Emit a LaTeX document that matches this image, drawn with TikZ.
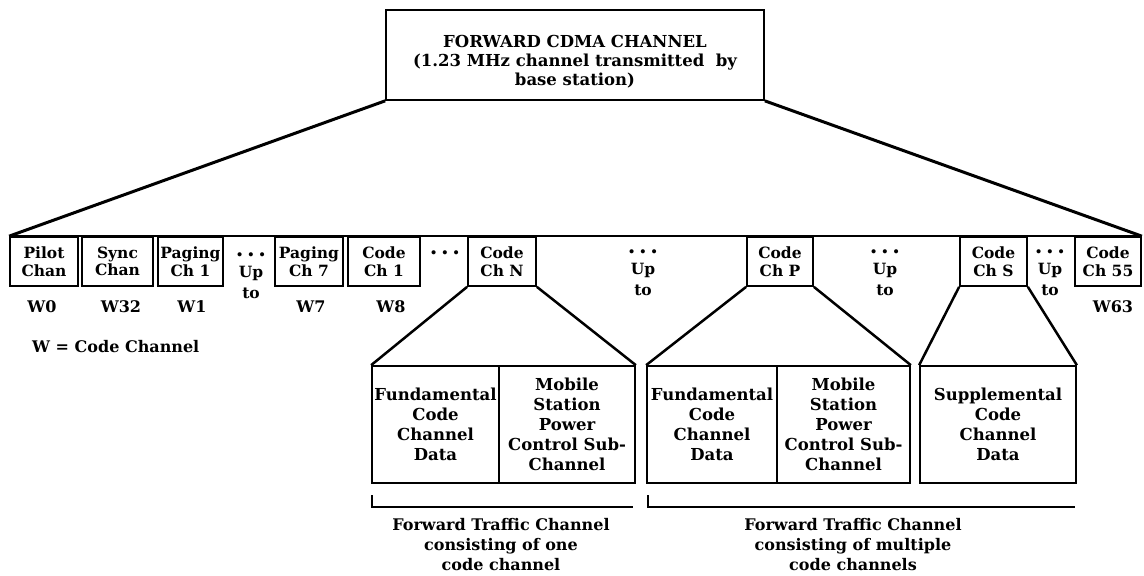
\documentclass[tikz,border=0pt]{standalone}
\usepackage{fontspec}
\setmainfont{DejaVu Serif}
\newcommand{\gapdots}{{\fontsize{22}{21}\selectfont .\,.\,.}}
\begin{document}
\begin{tikzpicture}[x=1pt,y=-1pt,
  every node/.style={font=\bfseries\fontsize{16.5}{19}\selectfont, align=center, inner sep=0pt},
  chbox/.style={draw, line width=1.7pt, minimum height=49pt, font=\bfseries\fontsize{15.5}{17.5}\selectfont},
  subbox/.style={draw, line width=1.7pt, minimum height=117pt, font=\bfseries\fontsize{16.5}{20}\selectfont},
  gap/.style={font=\bfseries\fontsize{15.5}{21}\selectfont},
  wlabel/.style={font=\bfseries\fontsize{16}{18}\selectfont},
  bigfan/.style={line width=3pt},
  fan/.style={line width=2.5pt},
  rowline/.style={line width=2pt},
  bracket/.style={line width=1.6pt},
  caption/.style={font=\bfseries\fontsize{16}{20}\selectfont},
]
\useasboundingbox (0,0) rectangle (1144,576);

% top-level channel
\node[draw, line width=1.7pt, minimum width=378pt, minimum height=90pt] (topbox) at (575,55) {};
\node (toptitle) at (575,62) {FORWARD CDMA CHANNEL\\(1.23 MHz channel transmitted\ \ by\\base station)};

% row of code channels
\node[chbox, minimum width=68pt] (pilot) at (44,261.5) {Pilot\\Chan};
\node[chbox, minimum width=71pt] (sync) at (117.5,261.5) {Sync\\Chan};
\node[chbox, minimum width=65pt] (paging1) at (190.5,261.5) {Paging\\Ch 1};
\node[chbox, minimum width=68pt] (paging7) at (309,261.5) {Paging\\Ch 7};
\node[chbox, minimum width=72pt] (code1) at (384,261.5) {Code\\Ch 1};
\node[chbox, minimum width=68pt] (codeN) at (502,261.5) {Code\\Ch N};
\node[chbox, minimum width=66pt] (codeP) at (780,261.5) {Code\\Ch P};
\node[chbox, minimum width=67pt] (codeS) at (993.5,261.5) {Code\\Ch S};
\node[chbox, minimum width=66pt] (code55) at (1108,261.5) {Code\\Ch 55};

% gaps between channels
\node[gap] (gapA) at (251,276) {\gapdots\\Up\\to};
\node[gap] (gapB) at (445,253) {\gapdots};
\node[gap] (gapC) at (643,273) {\gapdots\\Up\\to};
\node[gap] (gapD) at (885,273) {\gapdots\\Up\\to};
\node[gap] (gapE) at (1050,273) {\gapdots\\Up\\to};

% Walsh code labels
\node[wlabel] (w0) at (42,307) {W0};
\node[wlabel] (w32) at (121,307) {W32};
\node[wlabel] (w1) at (192,307) {W1};
\node[wlabel] (w7) at (311,307) {W7};
\node[wlabel] (w8) at (391,307) {W8};
\node[wlabel] (w63) at (1113,307) {W63};
\node[wlabel, anchor=west] (wkey) at (32,347) {W = Code Channel};

% sub-channels
\node[subbox, minimum width=127pt] (fund1) at (435.5,424.5) {Fundamental\\Code\\Channel\\Data};
\node[subbox, minimum width=136pt] (mob1) at (567,424.5) {Mobile\\Station\\Power\\Control Sub-\\Channel};
\node[subbox, minimum width=130pt] (fund2) at (712,424.5) {Fundamental\\Code\\Channel\\Data};
\node[subbox, minimum width=133pt] (mob2) at (843.5,424.5) {Mobile\\Station\\Power\\Control Sub-\\Channel};
\node[subbox, minimum width=156pt] (supp) at (998,424.5) {Supplemental\\Code\\Channel\\Data};

% fan-out from the forward channel
\draw[bigfan] (topbox.south west) -- (pilot.north west);
\draw[bigfan] (topbox.south east) -- (code55.north east);
\draw[rowline] (pilot.north west) -- (code55.north east);

% fan-out of code channels into sub-channels
\draw[fan] (codeN.south west) -- (fund1.north west);
\draw[fan] (codeN.south east) -- (mob1.north east);
\draw[fan] (codeP.south west) -- (fund2.north west);
\draw[fan] (codeP.south east) -- (mob2.north east);
\draw[fan] (codeS.south west) -- (supp.north west);
\draw[fan] (codeS.south east) -- (supp.north east);

% brackets grouping traffic channels
\coordinate (br1a) at (372,495);
\coordinate (br1b) at (633,507);
\coordinate (br2a) at (648,495);
\coordinate (br2b) at (1075,507);
\draw[bracket] (br1a) |- (br1b);
\draw[bracket] (br2a) |- (br2b);

\node[caption] (cap1) at (501,545) {Forward Traffic Channel\\consisting of one\\code channel};
\node[caption] (cap2) at (853,545) {Forward Traffic Channel\\consisting of multiple\\code channels};
\end{tikzpicture}
\end{document}
